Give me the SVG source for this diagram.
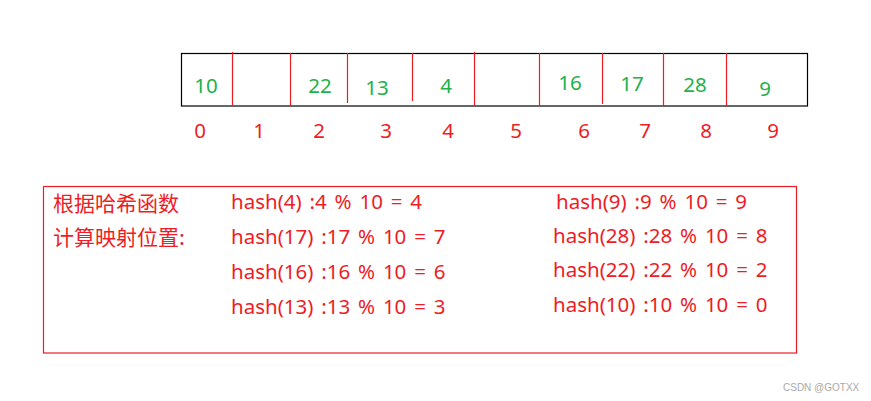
<svg xmlns="http://www.w3.org/2000/svg" width="871" height="401" viewBox="0 0 871 401">
<style>
.num{font-family:"Noto Sans","Liberation Sans",sans-serif;font-size:20.5px;fill:#22b14c;text-anchor:middle}
.idx{font-family:"Noto Sans","Liberation Sans",sans-serif;font-size:20.5px;fill:#ee1c25;text-anchor:middle}
.hash{font-family:"Noto Sans","Liberation Sans",sans-serif;font-size:20.5px;fill:#ee1c25;word-spacing:2.5px}
.cn{font-family:"Noto Sans CJK SC",sans-serif;font-size:21px;fill:#ee1c25}
.div{stroke:#ee1c25;stroke-width:1.2}
.wm{font-family:"Liberation Sans",sans-serif;font-size:10px;fill:#aaaaaa}
</style>
<rect width="871" height="401" fill="#ffffff"/>
<g id="array">
<rect x="181.5" y="53.5" width="626" height="52.5" fill="none" stroke="#000" stroke-width="1.2"/>
<line class="div" x1="232.5" y1="52" x2="232.5" y2="106"/>
<line class="div" x1="290.5" y1="53" x2="290.5" y2="106"/>
<line class="div" x1="347.5" y1="53" x2="347.5" y2="103"/>
<line class="div" x1="412.5" y1="53" x2="412.5" y2="101"/>
<line class="div" x1="474.5" y1="52" x2="474.5" y2="106"/>
<line class="div" x1="539.5" y1="53" x2="539.5" y2="106"/>
<line class="div" x1="602.5" y1="53" x2="602.5" y2="104"/>
<line class="div" x1="663.5" y1="53" x2="663.5" y2="106"/>
<line class="div" x1="726.5" y1="53" x2="726.5" y2="106"/>
</g>
<g id="values">
<text class="num" x="206" y="93">10</text>
<text class="num" x="320" y="93">22</text>
<text class="num" x="377" y="95">13</text>
<text class="num" x="446" y="93">4</text>
<text class="num" x="570" y="90">16</text>
<text class="num" x="632" y="91">17</text>
<text class="num" x="695" y="92">28</text>
<text class="num" x="765" y="96">9</text>
</g>
<g id="indices">
<text class="idx" x="200" y="138">0</text>
<text class="idx" x="259" y="138">1</text>
<text class="idx" x="319" y="138">2</text>
<text class="idx" x="386" y="138">3</text>
<text class="idx" x="448" y="138">4</text>
<text class="idx" x="516" y="138">5</text>
<text class="idx" x="584" y="138">6</text>
<text class="idx" x="645" y="138">7</text>
<text class="idx" x="706" y="138">8</text>
<text class="idx" x="773" y="138">9</text>
</g>
<g id="hashbox">
<rect x="43.5" y="186.5" width="753" height="166.5" fill="none" stroke="#ee1c25" stroke-width="1.2"/>
<text class="cn" x="53" y="211">根据哈希函数</text>
<text class="cn" x="53" y="245">计算映射位置:</text>
<text class="hash" x="231" y="209">hash(4) :4 % 10 = 4</text>
<text class="hash" x="231" y="244">hash(17) :17 % 10 = 7</text>
<text class="hash" x="231" y="279">hash(16) :16 % 10 = 6</text>
<text class="hash" x="231" y="314">hash(13) :13 % 10 = 3</text>
<text class="hash" x="556" y="209">hash(9) :9 % 10 = 9</text>
<text class="hash" x="553" y="243">hash(28) :28 % 10 = 8</text>
<text class="hash" x="553" y="277">hash(22) :22 % 10 = 2</text>
<text class="hash" x="553" y="312">hash(10) :10 % 10 = 0</text>
</g>
<text class="wm" x="783" y="391">CSDN @GOTXX</text>
</svg>
